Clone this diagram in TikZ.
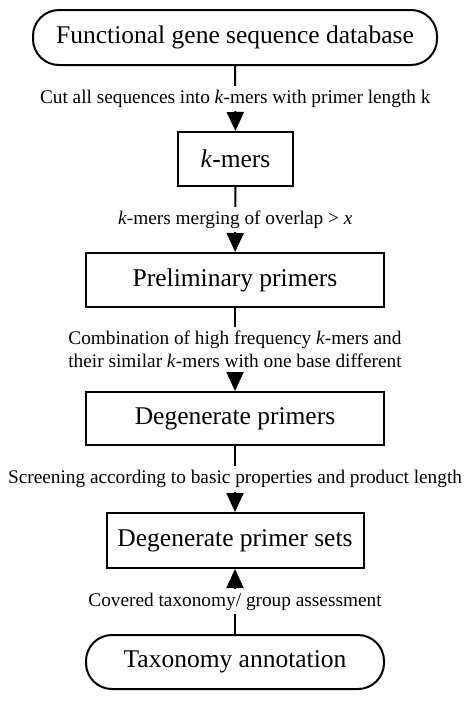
\documentclass[tikz,border=0pt]{standalone}
\usepackage{fontspec}
\setmainfont{Liberation Serif}
\usetikzlibrary{arrows.meta}
\begin{document}
\begin{tikzpicture}[x=1pt,y=-1pt,
  boxtext/.style={font=\fontsize{25.5}{30}\selectfont, inner sep=0pt, line width=2pt, draw=black},
  stepbox/.style={boxtext, rectangle},
  termbox/.style={boxtext, rectangle, rounded corners=26pt},
  lbl/.style={font=\fontsize{19.3}{23}\selectfont, fill=white, inner xsep=2pt, inner ysep=4pt, align=center},
  arr/.style={line width=2pt, -{Triangle[width=17pt,length=19pt]}}]
\useasboundingbox (0,0) rectangle (474,705);
\node[termbox, minimum width=404pt, minimum height=55pt] (top) at (235,37.5) {Functional gene sequence database};
\node[stepbox, minimum width=115pt, minimum height=54pt] (kmer) at (235.5,159) {\textit{k}-mers};
\node[stepbox, minimum width=298pt, minimum height=54pt] (prelim) at (235,280) {Preliminary primers};
\node[stepbox, minimum width=298pt, minimum height=53pt] (degen) at (235,418.5) {Degenerate primers};
\node[stepbox, minimum width=257pt, minimum height=55pt] (sets) at (235,540.5) {Degenerate primer sets};
\node[termbox, minimum width=298pt, minimum height=54pt] (tax) at (235,662) {Taxonomy annotation};

\draw[arr] (top) -- (kmer) node[midway, lbl] (l1) {Cut all sequences into \textit{k}-mers with primer length k};
\draw[arr] (kmer) -- (prelim) node[midway, lbl] (l2) {\textit{k}-mers merging of overlap > \textit{x}};
\draw[arr] (prelim) -- (degen) node[midway, lbl] (l3) {Combination of high frequency \textit{k}-mers and\\their similar \textit{k}-mers with one base different};
\draw[arr] (degen) -- (sets) node[midway, lbl] (l4) {Screening according to basic properties and product length};
\draw[arr] (tax) -- (sets) node[midway, lbl] (l5) {Covered taxonomy/ group assessment};
\end{tikzpicture}
\end{document}
